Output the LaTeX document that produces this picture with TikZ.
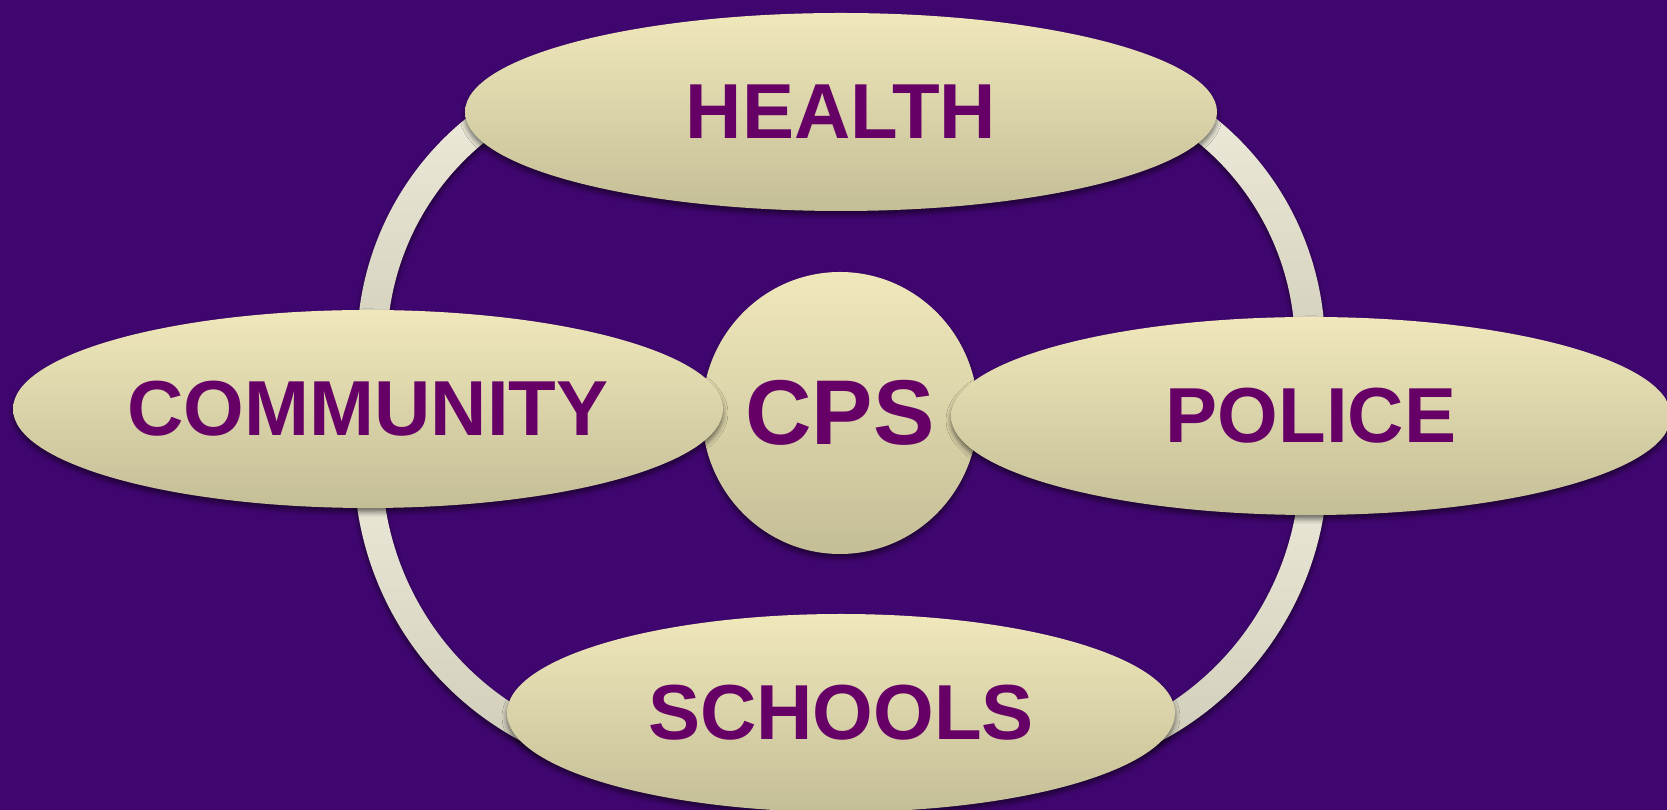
\documentclass[tikz,border=0pt]{standalone}
\usepackage{fontspec}
\setmainfont{Liberation Sans}
\usetikzlibrary{shapes.geometric,shadows.blur,calc}
\definecolor{bg}{RGB}{64,6,112}
\definecolor{txt}{RGB}{102,0,102}
\definecolor{shtop}{RGB}{240,232,187}
\definecolor{shbot}{RGB}{196,190,151}
\definecolor{rtop}{RGB}{242,239,223}
\definecolor{rbot}{RGB}{206,203,184}
\tikzset{
  softshadow/.style={blur shadow={shadow xshift=0pt, shadow yshift=-4pt, shadow blur radius=5pt, shadow opacity=55}},
  blob/.style={ellipse, inner sep=0pt, draw=none, top color=shtop, bottom color=shbot,
    text=txt, font=\fontsize{78}{80}\selectfont\bfseries, softshadow},
  ringseg/.style={draw=none, top color=rtop, bottom color=rbot, softshadow},
}
\begin{document}
\begin{tikzpicture}[x=1pt,y=1pt]
\useasboundingbox (0,0) rectangle (1667,810);
\fill[bg] (0,0) rectangle (1667,810);
\clip (0,0) rectangle (1667,810);
% ring arc centres
\coordinate (tl) at (651,463);
\coordinate (tr) at (1031,463);
\coordinate (bl) at (669,347);
\coordinate (br) at (1013,347);
% ring segments
\path[ringseg] ($(tl)+(90:294)$) arc[start angle=90,end angle=190,radius=294]
  -- ($(tl)+(190:264)$) arc[start angle=190,end angle=90,radius=264] -- cycle;
\path[ringseg] ($(tr)+(-10:294)$) arc[start angle=-10,end angle=90,radius=294]
  -- ($(tr)+(90:264)$) arc[start angle=90,end angle=-10,radius=264] -- cycle;
\path[ringseg] ($(bl)+(170:315)$) arc[start angle=170,end angle=270,radius=315]
  -- ($(bl)+(270:287)$) arc[start angle=270,end angle=170,radius=287] -- cycle;
\path[ringseg] ($(br)+(270:315)$) arc[start angle=270,end angle=370,radius=315]
  -- ($(br)+(370:287)$) arc[start angle=370,end angle=270,radius=287] -- cycle;
% shapes
\node[blob, minimum width=752pt, minimum height=198pt] (health) at (841,698) {HEALTH};
\node[blob, minimum width=276pt, minimum height=282pt,
      font=\fontsize{92}{94}\selectfont\bfseries] (cps) at (840,397) {CPS};
\node[blob, minimum width=710pt, minimum height=198pt] (community) at (368,401) {COMMUNITY};
\node[blob, minimum width=720pt, minimum height=198pt] (police) at (1311,394) {POLICE};
\node[blob, minimum width=668pt, minimum height=198pt] (schools) at (841,97) {SCHOOLS};
\end{tikzpicture}
\end{document}
